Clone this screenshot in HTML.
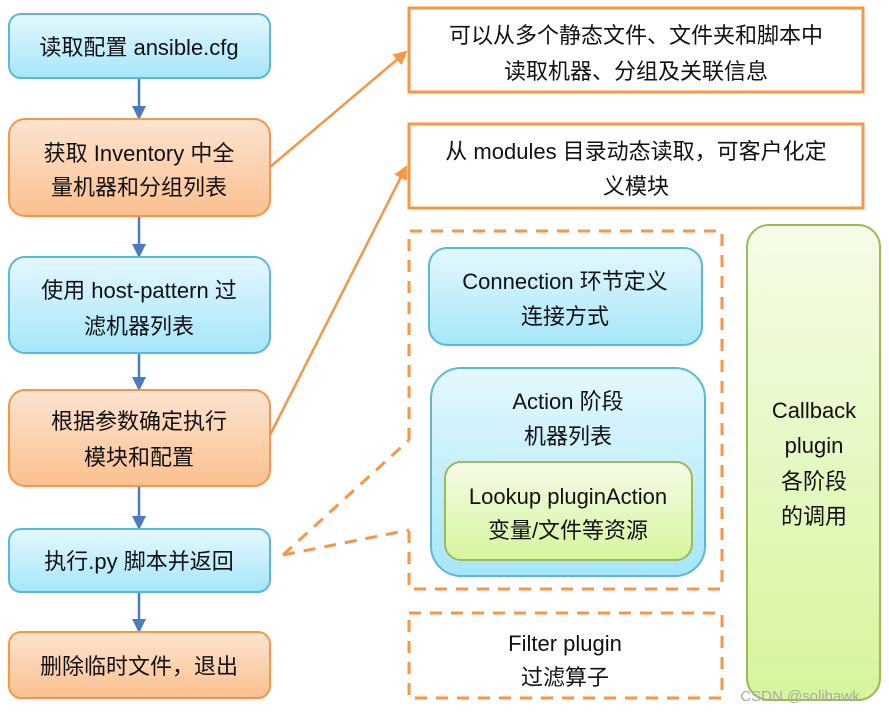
<!DOCTYPE html><html><head><meta charset="utf-8"><style>
body{margin:0;background:#fff;}
svg text{font-family:"Liberation Sans","Noto Sans CJK SC",sans-serif;font-size:22px;fill:#111;text-anchor:middle;}
</style></head><body>
<svg width="889" height="712" viewBox="0 0 889 712" xmlns="http://www.w3.org/2000/svg">
<defs>
<linearGradient id="b" x1="0" y1="0" x2="0" y2="1"><stop offset="0" stop-color="#e4f8fe"/><stop offset="1" stop-color="#a6e6fa"/></linearGradient>
<linearGradient id="o" x1="0" y1="0" x2="0" y2="1"><stop offset="0" stop-color="#fde4d0"/><stop offset="1" stop-color="#fbc08f"/></linearGradient>
<linearGradient id="g" x1="0" y1="0" x2="0" y2="1"><stop offset="0" stop-color="#f5fce8"/><stop offset="1" stop-color="#d6f59c"/></linearGradient>
<marker id="ab" markerWidth="14" markerHeight="14" refX="12" refY="7" orient="auto" markerUnits="userSpaceOnUse"><path d="M0,0L14,7L0,14z" fill="#4a7bbf"/></marker>
<marker id="ao" markerWidth="14" markerHeight="14" refX="12" refY="7" orient="auto" markerUnits="userSpaceOnUse"><path d="M0,0L14,7L0,14z" fill="#f79646"/></marker>
</defs>
<g stroke="#4a7bbf" stroke-width="2.5" marker-end="url(#ab)">
<line x1="139" y1="78" x2="139" y2="118"/><line x1="139" y1="216" x2="139" y2="256"/><line x1="139" y1="353" x2="139" y2="389"/><line x1="139" y1="486" x2="139" y2="528"/><line x1="139" y1="592" x2="139" y2="631"/>
</g>
<g stroke-width="2">
<rect x="9" y="14" width="261" height="64" rx="12" fill="url(#b)" stroke="#5bb8d8"/>
<rect x="9" y="119" width="261" height="97" rx="16" fill="url(#o)" stroke="#f79646"/>
<rect x="9" y="257" width="261" height="96" rx="16" fill="url(#b)" stroke="#5bb8d8"/>
<rect x="9" y="390" width="261" height="96" rx="16" fill="url(#o)" stroke="#f79646"/>
<rect x="9" y="529" width="261" height="63" rx="12" fill="url(#b)" stroke="#5bb8d8"/>
<rect x="9" y="632" width="261" height="66" rx="12" fill="url(#o)" stroke="#f79646"/>
</g>
<text x="139" y="55">读取配置 ansible.cfg</text>
<text x="139" y="161">获取 Inventory 中全</text><text x="139" y="195">量机器和分组列表</text>
<text x="139" y="298">使用 host-pattern 过</text><text x="139" y="334">滤机器列表</text>
<text x="139" y="429">根据参数确定执行</text><text x="139" y="465">模块和配置</text>
<text x="139" y="569">执行.py 脚本并返回</text>
<text x="139" y="674">删除临时文件，退出</text>
<g stroke="#f79646" stroke-width="2.5" marker-end="url(#ao)">
<line x1="270" y1="167" x2="406" y2="52"/><line x1="270" y1="435" x2="406" y2="167"/>
</g>
<g fill="#fff" stroke="#f79646" stroke-width="3">
<rect x="409" y="8" width="454" height="84"/><rect x="409" y="124" width="454" height="84"/>
</g>
<text x="636" y="43">可以从多个静态文件、文件夹和脚本中</text><text x="636" y="79">读取机器、分组及关联信息</text>
<text x="636" y="159">从 modules 目录动态读取，可客户化定</text><text x="636" y="194">义模块</text>
<g fill="none" stroke="#f79646" stroke-width="3" stroke-dasharray="12,9">
<path d="M409,440 L409,231 L722,231 L722,589 L409,589 L409,530"/>
<rect x="409" y="613" width="313" height="85"/>
<line x1="283" y1="555" x2="409" y2="440"/><line x1="283" y1="555" x2="409" y2="530"/>
</g>
<g stroke-width="2">
<rect x="429" y="248" width="273" height="97" rx="18" fill="url(#b)" stroke="#5bb8d8"/>
<rect x="431" y="368" width="274" height="208" rx="30" fill="url(#b)" stroke="#5bb8d8"/>
<rect x="445" y="462" width="247" height="98" rx="16" fill="url(#g)" stroke="#9bbb59"/>
<rect x="747" y="225" width="133" height="475" rx="22" fill="url(#g)" stroke="#9bbb59"/>
</g>
<text x="565" y="289">Connection 环节定义</text><text x="565" y="324">连接方式</text>
<text x="568" y="409">Action 阶段</text><text x="568" y="444">机器列表</text>
<text x="568" y="504">Lookup pluginAction</text><text x="568" y="538">变量/文件等资源</text>
<text x="814" y="418">Callback</text><text x="814" y="453">plugin</text><text x="814" y="489">各阶段</text><text x="814" y="524">的调用</text>
<text x="565" y="651">Filter plugin</text><text x="565" y="685">过滤算子</text>
<text x="800" y="701" style="font-size:15px;fill:#aaa">CSDN @solihawk</text>
</svg>
</body></html>
